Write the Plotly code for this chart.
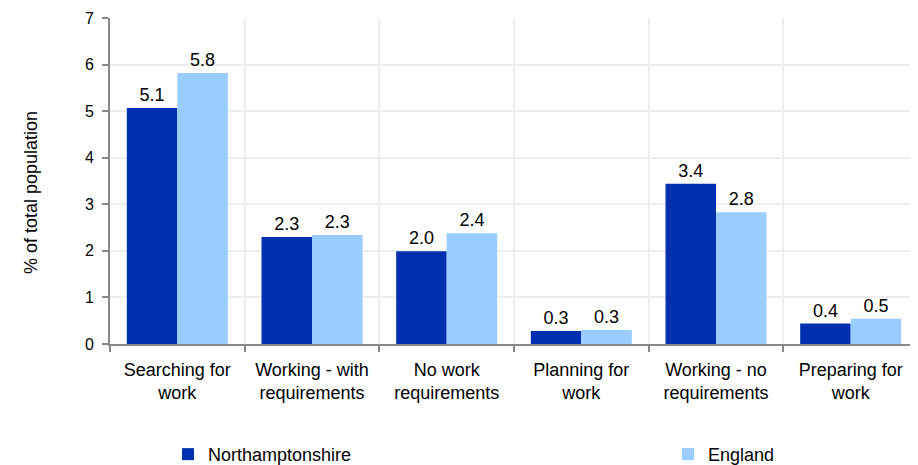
import plotly.graph_objects as go

categories = ["Searching for<br>work", "Working - with<br>requirements", "No work<br>requirements",
              "Planning for<br>work", "Working - no<br>requirements", "Preparing for<br>work"]
northamptonshire = [5.07, 2.30, 1.99, 0.28, 3.44, 0.44]
england = [5.82, 2.34, 2.38, 0.30, 2.83, 0.54]
y_ticks = [0, 1, 2, 3, 4, 5, 6, 7]
y_title = "% of total population"

FONT = "Liberation Sans, Arial, sans-serif"
FS = 18

fig = go.Figure()
fig.add_trace(go.Bar(
    x=categories, y=northamptonshire, name="Northamptonshire",
    marker=dict(color="#0030B0", line=dict(width=0)),
    texttemplate="%{y:.1f}", textposition="outside", cliponaxis=False,
    textfont=dict(size=FS, color="#000000", family=FONT),
    legend="legend", showlegend=True,
))
fig.add_trace(go.Bar(
    x=categories, y=england, name="England",
    marker=dict(color="#99CCFF", line=dict(width=0)),
    texttemplate="%{y:.1f}", textposition="outside", cliponaxis=False,
    textfont=dict(size=FS, color="#000000", family=FONT),
    legend="legend2", showlegend=True,
))

fig.update_layout(
    width=910, height=457,
    margin=dict(l=102, r=0, t=10, b=121, autoexpand=False),
    paper_bgcolor="white", plot_bgcolor="white",
    barmode="group", bargap=0.25, bargroupgap=0,
    showlegend=True,
    font=dict(family=FONT, size=FS, color="#000000"),
    legend=dict(x=0.0718, y=-0.282, xanchor="left", yanchor="top",
                font=dict(size=FS), bgcolor="rgba(0,0,0,0)", itemwidth=30),
    legend2=dict(x=0.6906, y=-0.282, xanchor="left", yanchor="top",
                 font=dict(size=FS), bgcolor="rgba(0,0,0,0)", itemwidth=30),
    annotations=[dict(text=y_title, xref="paper", yref="paper", x=-0.0978, y=0.466,
                      xanchor="center", yanchor="middle", textangle=-90, showarrow=False,
                      font=dict(size=FS, family=FONT, color="#000000"))],
)
fig.update_xaxes(
    tickson="boundaries", ticks="outside", ticklen=6, tickcolor="#888888", tickwidth=2,
    showline=True, linecolor="#888888", linewidth=2,
    showgrid=True, gridcolor="#EEEEEE", gridwidth=2,
    tickfont=dict(size=FS, family=FONT), ticklabelstandoff=8, automargin=False,
)
fig.update_yaxes(
    range=[0, 7], tickvals=y_ticks, ticks="outside", ticklen=6, tickcolor="#888888", tickwidth=2,
    showline=True, linecolor="#888888", linewidth=2,
    showgrid=True, gridcolor="#EEEEEE", gridwidth=2, zeroline=False,
    tickfont=dict(size=16, family=FONT), automargin=False, ticklabelstandoff=5,
)

fig.write_html("out.html")
